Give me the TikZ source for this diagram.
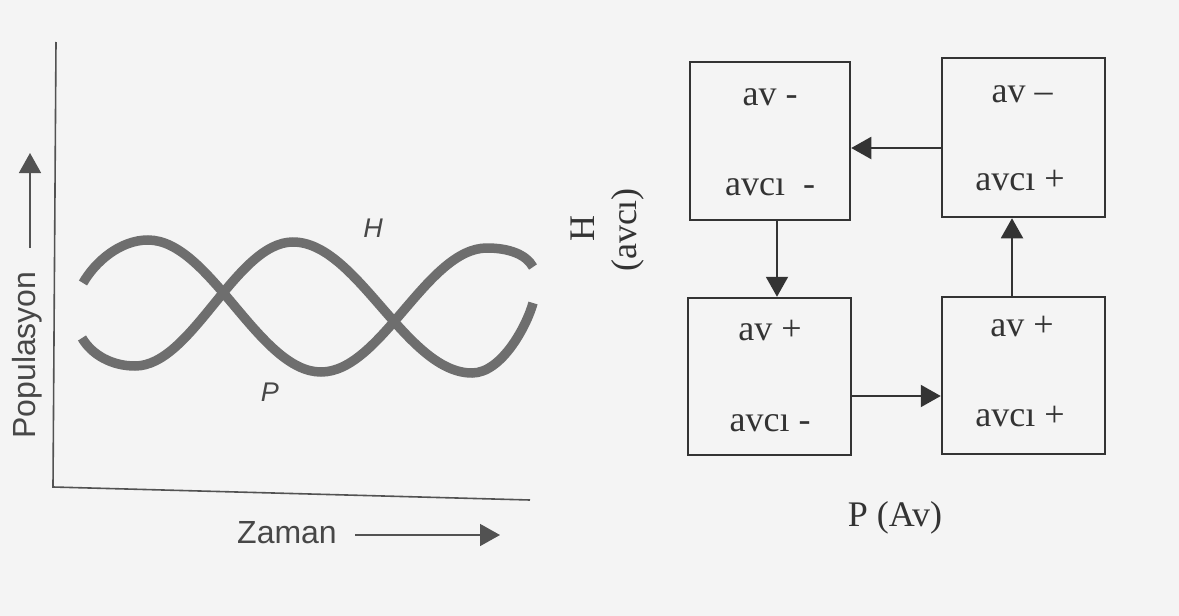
\documentclass[tikz,border=0pt]{standalone}
\usepackage{fontspec}
\setmainfont{Liberation Serif}
\newfontfamily\graphfont{Liberation Sans}
\usetikzlibrary{arrows.meta}
\definecolor{ink}{HTML}{333333}
\definecolor{curvecol}{HTML}{6E6E6E}
\definecolor{paper}{HTML}{F4F4F4}
\begin{document}
\begin{tikzpicture}[x=1pt,y=-1pt,
  box/.style={draw=ink,line width=2.5pt,inner sep=0pt},
  lbl/.style={text=ink,font=\fontsize{36}{40}\selectfont,anchor=base,inner sep=0pt},
  conn/.style={draw=ink,line width=2pt,-{Triangle[length=20pt,width=22pt]}},
  popcurve/.style={draw=curvecol,line width=9.5pt},
  axisline/.style={draw=ink!85,line width=1.6pt},
  garrow/.style={draw=ink!85,line width=1.6pt,-{Triangle[length=20pt,width=22pt]}},
  glbl/.style={text=ink!90,font=\graphfont\fontsize{32}{36}\selectfont,inner sep=0pt},
  gsym/.style={text=ink!90,font=\graphfont\itshape\fontsize{27}{30}\selectfont,inner sep=0pt}
  ]
\fill[paper] (0,0) rectangle (1179,616);
\useasboundingbox (0,0) rectangle (1179,616);

% ---------- left graph ----------
\coordinate (ytop) at (56,42);
\coordinate (orig) at (53,487);
\coordinate (xend) at (530,500);
\draw[axisline] (ytop) -- (orig) -- (xend);

\coordinate (pa) at (30,248);
\coordinate (pb) at (30,153);
\draw[garrow] (pa) -- (pb);
\node[glbl,rotate=90] (populasyon) at (27,355) {Populasyon};

\node[glbl] (zaman) at (287,533) {Zaman};
\coordinate (za) at (355,535);
\coordinate (zb) at (500,535);
\draw[garrow] (za) -- (zb);

% curve A (H)
\draw[popcurve] (83,283) .. controls (95,262) and (120,240) .. (148,240)
  .. controls (210,240) and (259,372) .. (321,372)
  .. controls (381,372) and (427,248) .. (487,248)
  .. controls (508,248) and (526,254) .. (533,267);
% curve B (P)
\draw[popcurve] (82,338) .. controls (92,355) and (112,366) .. (135,366)
  .. controls (192,366) and (236,242) .. (293,242)
  .. controls (357,242) and (406,373) .. (472,373)
  .. controls (502,373) and (527,325) .. (533,303);

\node[gsym] (hlab) at (373,228) {H};
\node[gsym] (plab) at (270,392) {P};

% ---------- right diagram ----------
\node[box,minimum width=160pt,minimum height=158pt] (tl) at (770,141) {};
\node[box,minimum width=163pt,minimum height=159pt] (tr) at (1023.5,137.5) {};
\node[box,minimum width=163pt,minimum height=157pt] (bl) at (769.5,376.5) {};
\node[box,minimum width=163pt,minimum height=157pt] (br) at (1023.5,375.5) {};

\node[lbl] (tl1) at (770,105) {av -};
\node[lbl] (tl2) at (770,195) {avcı\ \ -};
\node[lbl] (tr1) at (1022,102) {av –};
\node[lbl] (tr2) at (1020,190) {avcı +};
\node[lbl] (bl1) at (770,340) {av +};
\node[lbl] (bl2) at (770,431) {avcı -};
\node[lbl] (br1) at (1022,336) {av +};
\node[lbl] (br2) at (1020,426) {avcı +};

\draw[conn] (tr.west |- 0,148) -- (tl.east |- 0,148);
\draw[conn] (tl.south -| 777,0) -- (bl.north -| 777,0);
\draw[conn] (bl.east |- 0,396) -- (br.west |- 0,396);
\draw[conn] (br.north -| 1012,0) -- (tr.south -| 1012,0);

\node[text=ink,font=\fontsize{36}{40}\selectfont,rotate=90,inner sep=0pt] (hh) at (583,228) {H};
\node[text=ink,font=\fontsize{36}{40}\selectfont,rotate=90,inner sep=0pt] (havci) at (628,230) {(avcı)};
\node[text=ink,font=\fontsize{36}{40}\selectfont,inner sep=0pt] (pav) at (895,518) {P (Av)};
\end{tikzpicture}
\end{document}
